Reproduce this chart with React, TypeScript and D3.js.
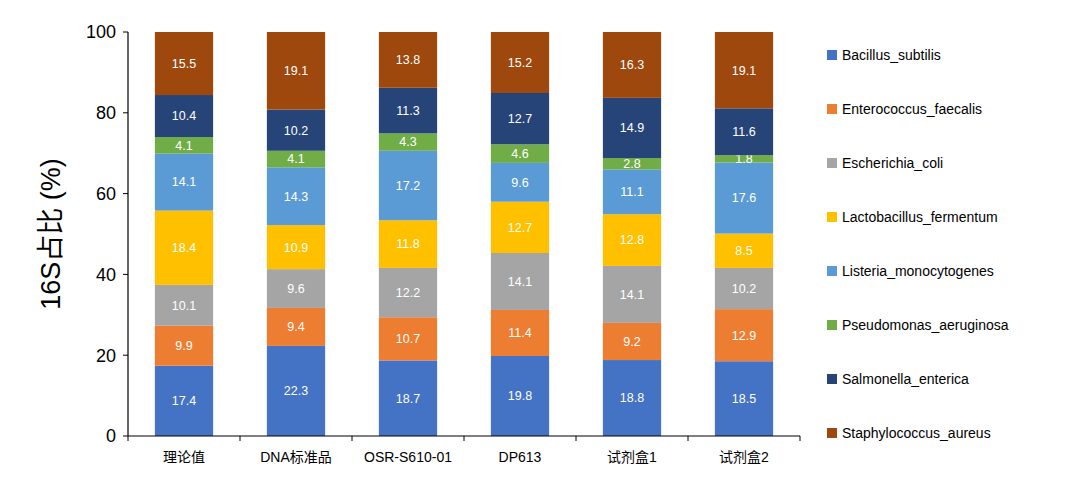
import React from 'react'
import * as d3 from 'd3'

const categories = ['理论值', 'DNA标准品', 'OSR-S610-01', 'DP613', '试剂盒1', '试剂盒2']
const species = [
  'Bacillus_subtilis',
  'Enterococcus_faecalis',
  'Escherichia_coli',
  'Lactobacillus_fermentum',
  'Listeria_monocytogenes',
  'Pseudomonas_aeruginosa',
  'Salmonella_enterica',
  'Staphylococcus_aureus',
]
const colors = ['#4472C4', '#ED7D31', '#A5A5A5', '#FFC000', '#5B9BD5', '#70AD47', '#264478', '#9E480E']

const bacillus = [17.4, 22.3, 18.7, 19.8, 18.8, 18.5]
const enterococcus = [9.9, 9.4, 10.7, 11.4, 9.2, 12.9]
const escherichia = [10.1, 9.6, 12.2, 14.1, 14.1, 10.2]
const lactobacillus = [18.4, 10.9, 11.8, 12.7, 12.8, 8.5]
const listeria = [14.1, 14.3, 17.2, 9.6, 11.1, 17.6]
const pseudomonas = [4.1, 4.1, 4.3, 4.6, 2.8, 1.8]
const salmonella = [10.4, 10.2, 11.3, 12.7, 14.9, 11.6]
const staphylococcus = [15.5, 19.1, 13.8, 15.2, 16.3, 19.1]
const series = [bacillus, enterococcus, escherichia, lactobacillus, listeria, pseudomonas, salmonella, staphylococcus]
const yTicks = [0, 20, 40, 60, 80, 100]

const W = 1080
const H = 495
const left = 128
const right = 800
const top = 32
const bottom = 436

export default function App() {
  const x = d3.scaleBand<string>().domain(categories).range([left, right]).paddingInner(0.48).paddingOuter(0.24)
  const y = d3.scaleLinear().domain([0, 100]).range([bottom, top])

  const stacks = categories.map((c, ci) => {
    let acc = 0
    return series.map((s, si) => {
      const v = s[ci]
      const y0 = acc
      acc += v
      const y1 = si === series.length - 1 ? Math.max(acc, 100) : acc
      return { c, si, v, y0, y1: Math.min(y1, 100) }
    })
  })

  return (
    <svg width={W} height={H} style={{ position: 'absolute', left: 0, top: 0, fontFamily: 'Arial, "Liberation Sans", "Noto Sans CJK SC", sans-serif' }}>
      <rect width={W} height={H} fill="#fff" />
      {stacks.flat().map((d, i) => {
        const x0 = x(d.c)!
        const ya = y(d.y1)
        const yb = y(d.y0)
        return (
          <g key={i}>
            <rect x={x0} y={ya} width={x.bandwidth()} height={yb - ya} fill={colors[d.si]} />
            <text x={x0 + x.bandwidth() / 2} y={(ya + yb) / 2} dy="0.35em" textAnchor="middle" fontSize={12.5} fill="#fff">
              {d.v.toFixed(1)}
            </text>
          </g>
        )
      })}
      <line x1={left} x2={left} y1={top} y2={bottom} stroke="#000" strokeWidth={1.2} />
      <line x1={left} x2={right} y1={bottom} y2={bottom} stroke="#000" strokeWidth={1.2} />
      {yTicks.map((t) => (
        <g key={t}>
          <line x1={left - 5} x2={left} y1={y(t)} y2={y(t)} stroke="#000" />
          <text x={left - 12} y={y(t)} dy="0.35em" textAnchor="end" fontSize={18}>{t}</text>
        </g>
      ))}
      {categories.map((c, i) => (
        <g key={c}>
          <line x1={left + i * x.step() + x.step() * 0} x2={left + i * x.step()} y1={bottom} y2={bottom + 5} stroke="#000" />
          <text x={x(c)! + x.bandwidth() / 2} y={bottom + 26} textAnchor="middle" fontSize={14}>{c}</text>
        </g>
      ))}
      <line x1={right} x2={right} y1={bottom} y2={bottom + 5} stroke="#000" />
      <text transform={`translate(60,${(top + bottom) / 2}) rotate(-90)`} textAnchor="middle" fontSize={27}>16S占比 (%)</text>
      {species.map((s, i) => (
        <g key={s} transform={`translate(827,${55 + i * 54})`}>
          <rect x={0} y={-5} width={10} height={10} fill={colors[i]} />
          <text x={15} dy="0.35em" fontSize={14}>{s}</text>
        </g>
      ))}
    </svg>
  )
}
